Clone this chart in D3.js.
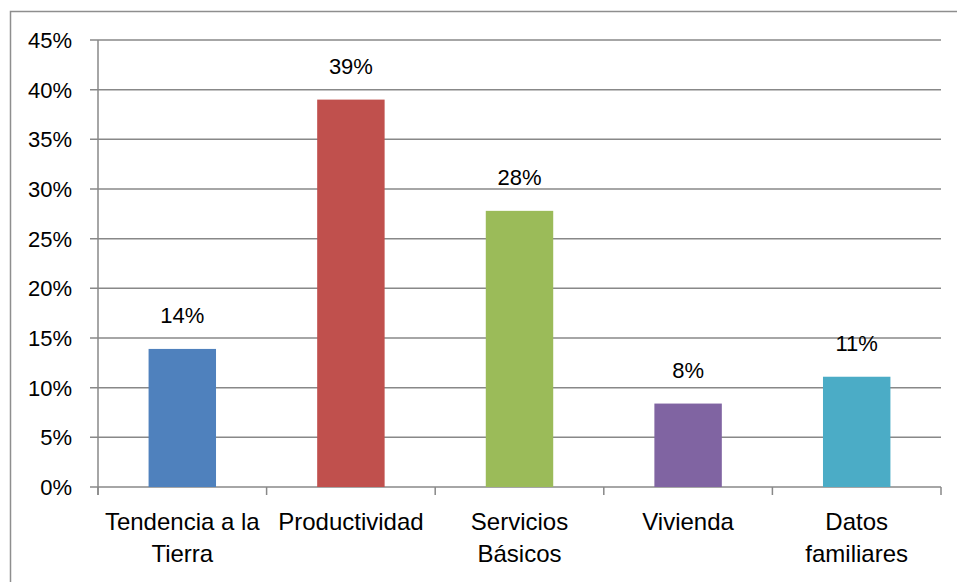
<!DOCTYPE html>
<html>
<head>
<meta charset="utf-8">
<script src="https://d3js.org/d3.v7.min.js"></script>
<style>
  body { margin: 0; background: #fff; }
  text { font-family: "Liberation Sans", Arial, sans-serif; fill: #000; }
</style>
</head>
<body>
<svg width="957" height="582"></svg>
<script>
var categories = [["Tendencia a la", "Tierra"], ["Productividad"], ["Servicios", "Básicos"], ["Vivienda"], ["Datos", "familiares"]];
var values = [13.9, 39.0, 27.8, 8.4, 11.1];
var colors = ["#4f81bd", "#c0504d", "#9bbb59", "#8064a2", "#4bacc6"];
var yTicks = [0, 5, 10, 15, 20, 25, 30, 35, 40, 45];

var svg = d3.select("svg"),
    width = +svg.attr("width"),
    height = +svg.attr("height");

var plotLeft = 98, plotRight = 941, plotTop = 40, plotBottom = 487;
var gridColor = "#888888";

// outer chart border (only top and left fall inside the picture)
svg.append("path")
    .attr("d", "M10.5," + height + "V11.5H" + width)
    .attr("fill", "none")
    .attr("stroke", "#8e8e8e")
    .attr("stroke-width", 1.5);

var x = d3.scaleBand()
    .domain(d3.range(values.length))
    .range([plotLeft, plotRight])
    .padding(0);

var y = d3.scaleLinear()
    .domain([0, 45])
    .range([plotBottom, plotTop]);

// gridlines
svg.append("g")
  .selectAll("line")
  .data(yTicks)
  .enter().append("line")
    .attr("x1", plotLeft - 8)
    .attr("x2", plotRight)
    .attr("y1", function(d) { return y(d); })
    .attr("y2", function(d) { return y(d); })
    .attr("stroke", gridColor)
    .attr("stroke-width", 1.5);

// y axis line
svg.append("line")
    .attr("x1", plotLeft).attr("x2", plotLeft)
    .attr("y1", plotTop).attr("y2", plotBottom + 8)
    .attr("stroke", gridColor)
    .attr("stroke-width", 1.5);

// x ticks at category boundaries
var bounds = d3.range(values.length + 1).map(function(i) { return plotLeft + i * x.step(); });
svg.append("g")
  .selectAll("line")
  .data(bounds)
  .enter().append("line")
    .attr("x1", function(d) { return d; })
    .attr("x2", function(d) { return d; })
    .attr("y1", plotBottom)
    .attr("y2", plotBottom + 8)
    .attr("stroke", gridColor)
    .attr("stroke-width", 1.5);

// y tick labels
svg.append("g")
  .selectAll("text")
  .data(yTicks)
  .enter().append("text")
    .attr("x", 72)
    .attr("y", function(d) { return y(d) + 8; })
    .attr("text-anchor", "end")
    .attr("font-size", "22px")
    .text(function(d) { return d + "%"; });

// bars
var barW = x.bandwidth() * 0.4;
svg.append("g")
  .selectAll("rect")
  .data(values)
  .enter().append("rect")
    .attr("x", function(d, i) { return x(i) + (x.bandwidth() - barW) / 2; })
    .attr("y", function(d) { return y(d); })
    .attr("width", barW)
    .attr("height", function(d) { return plotBottom - y(d); })
    .attr("fill", function(d, i) { return colors[i]; });

// value labels
svg.append("g")
  .selectAll("text")
  .data(values)
  .enter().append("text")
    .attr("x", function(d, i) { return x(i) + x.bandwidth() / 2; })
    .attr("y", function(d) { return y(d) - 26; })
    .attr("text-anchor", "middle")
    .attr("font-size", "22px")
    .text(function(d) { return Math.round(d) + "%"; });

// category labels
var catText = svg.append("g")
  .selectAll("text")
  .data(categories)
  .enter().append("text")
    .attr("text-anchor", "middle")
    .attr("font-size", "24px")
    .attr("transform", function(d, i) { return "translate(" + (x(i) + x.bandwidth() / 2) + ",530)"; });

catText.selectAll("tspan")
  .data(function(d) { return d; })
  .enter().append("tspan")
    .attr("x", 0)
    .attr("y", function(d, i) { return i * 32; })
    .text(function(d) { return d; });
</script>
</body>
</html>
